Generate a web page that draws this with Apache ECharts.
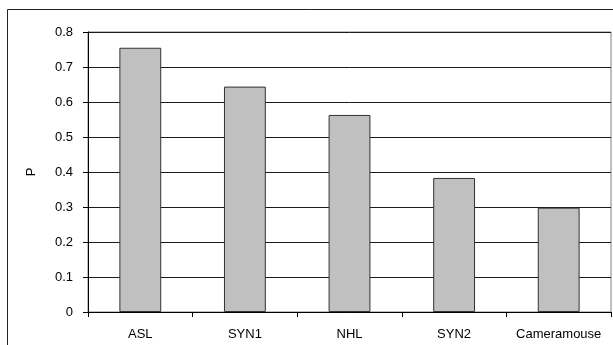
<!DOCTYPE html>
<html>
<head>
<meta charset="utf-8">
<script src="https://cdn.jsdelivr.net/npm/echarts@6/dist/echarts.min.js"></script>
<style>
  html, body { margin: 0; padding: 0; background: #fff; }
  #chart { width: 613px; height: 345px; }
</style>
</head>
<body>
<div id="chart"></div>
<script>
// Categories and P values per input method
const categories = ['ASL', 'SYN1', 'NHL', 'SYN2', 'Cameramouse'];
const pValues = [0.755, 0.644, 0.563, 0.383, 0.298];
const yTicks = { min: 0, max: 0.8, interval: 0.1 };

const FONT = 'Liberation Sans, Arial, sans-serif';

const chart = echarts.init(document.getElementById('chart'), null, { renderer: 'canvas' });
chart.setOption({
  animation: false,
  backgroundColor: '#fff',
  graphic: [{
    type: 'rect',
    shape: { x: 7.5, y: 9.5, width: 610, height: 345 },
    style: { fill: 'none', stroke: '#222', lineWidth: 1 },
    silent: true,
    z: -1
  }],
  grid: {
    left: 88, top: 32, right: 2, bottom: 33,
    show: true, borderColor: '#808080', borderWidth: 1
  },
  xAxis: {
    type: 'category',
    data: categories,
    boundaryGap: true,
    axisLine: { lineStyle: { color: '#000', width: 1 } },
    axisTick: { show: true, length: 5, lineStyle: { color: '#000' } },
    axisLabel: {
      color: '#000', fontFamily: FONT, fontSize: 13, margin: 16,
      interval: 0, hideOverlap: false
    },
    splitLine: { show: false }
  },
  yAxis: {
    type: 'value',
    min: yTicks.min,
    max: yTicks.max,
    interval: yTicks.interval,
    name: 'P',
    nameLocation: 'middle',
    nameGap: 50,
    nameRotate: 90,
    nameTextStyle: { color: '#000', fontFamily: FONT, fontSize: 13 },
    axisLine: { show: true, lineStyle: { color: '#000', width: 1 } },
    axisTick: { show: true, length: 5, lineStyle: { color: '#000' } },
    axisLabel: {
      color: '#000', fontFamily: FONT, fontSize: 13, margin: 15,
      formatter: v => (v === 0 ? '0' : v.toFixed(1))
    },
    splitLine: { show: true, lineStyle: { color: '#1a1a1a', width: 1 } }
  },
  series: [{
    type: 'bar',
    data: pValues,
    barWidth: '40%',
    itemStyle: { color: '#c0c0c0', borderColor: '#333', borderWidth: 1 }
  }]
});
</script>
</body>
</html>
